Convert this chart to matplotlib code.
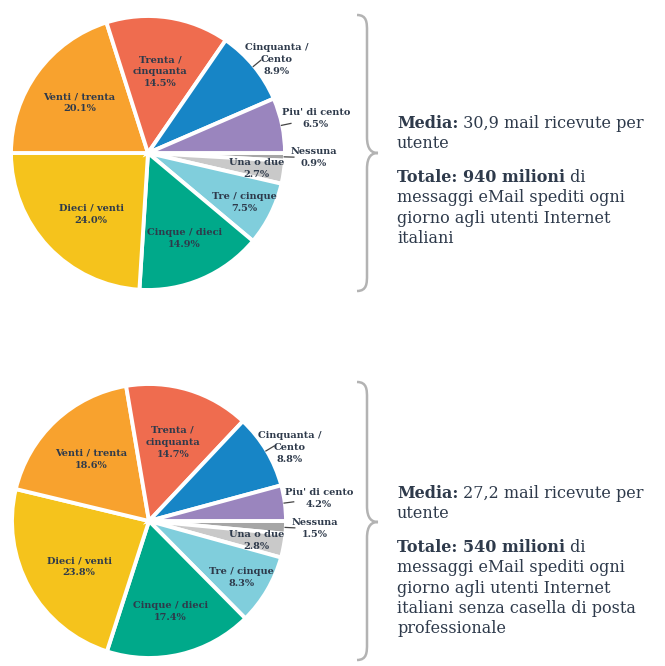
import matplotlib
matplotlib.use('Agg')
import matplotlib.pyplot as plt
import numpy as np
from matplotlib.path import Path
from matplotlib.patches import PathPatch

# slice order: clockwise from 3 o'clock
categories = ['Nessuna', 'Una o due', 'Tre / cinque', 'Cinque / dieci', 'Dieci / venti',
              'Venti / trenta', 'Trenta /\ncinquanta', 'Cinquanta /\nCento', "Piu' di cento"]
values_all = [0.9, 2.7, 7.5, 14.9, 24.0, 20.1, 14.5, 8.9, 6.5]
values_noprof = [1.5, 2.8, 8.3, 17.4, 23.8, 18.6, 14.7, 8.8, 4.2]

text_all = [
    [('Media:', 'bold'), (' 30,9 mail ricevute per', 'normal')],
    [('utente', 'normal')],
    None,
    [('Totale: 940 milioni', 'bold'), (' di', 'normal')],
    [('messaggi eMail spediti ogni', 'normal')],
    [('giorno agli utenti Internet', 'normal')],
    [('italiani', 'normal')],
]
text_noprof = [
    [('Media:', 'bold'), (' 27,2 mail ricevute per', 'normal')],
    [('utente', 'normal')],
    None,
    [('Totale: 540 milioni', 'bold'), (' di', 'normal')],
    [('messaggi eMail spediti ogni', 'normal')],
    [('giorno agli utenti Internet', 'normal')],
    [('italiani senza casella di posta', 'normal')],
    [('professionale', 'normal')],
]

colors = ['#a6a6a6', '#c9c9c9', '#80cedc', '#00a98a', '#f5c31c',
          '#f8a22e', '#ef6c4f', '#1785c6', '#9a85be']
# label distance (fraction of radius) and angle shift (deg), per slice
label_r = [1.21, 0.80, 0.79, 0.68, 0.61, 0.62, 0.60, 1.16, 1.25]
label_dang = [0, 0, -1, 0, 4, 0, 0, -3.5, 0]
outside = [True, False, False, False, False, False, False, True, True]

TXT = '#2e3a4b'
SERIF = 'DejaVu Serif'

W, H = 665, 666
fig = plt.figure(figsize=(W / 100, H / 100), dpi=100)
bg = fig.add_axes([0, 0, 1, 1])
bg.set_xlim(0, W)
bg.set_ylim(H, 0)
bg.axis('off')


def draw_pie(values, cx, cy, r):
    ax = fig.add_axes([(cx - r) / W, (H - cy - r) / H, 2 * r / W, 2 * r / H])
    wedges, _ = ax.pie(values, colors=colors, startangle=0, counterclock=False,
                       wedgeprops=dict(edgecolor='white', linewidth=2.8))
    ax.set_xlim(-1, 1)
    ax.set_ylim(-1, 1)
    for w, lab, v, lr, da, out in zip(wedges, categories, values, label_r, label_dang, outside):
        mid = (w.theta1 + w.theta2) / 2
        ang = np.deg2rad(mid + da)
        s = f'{lab}\n{v:.1f}%'
        ax.text(lr * np.cos(ang), lr * np.sin(ang), s, ha='center', va='center',
                fontsize=7, fontweight='bold', family=SERIF, color=TXT, linespacing=1.45)
        if out:
            # short leader line from the rim
            m = np.deg2rad(mid)
            rr = np.array([0.99, 1.07])
            ax.plot(rr * np.cos(m), rr * np.sin(m), color='#444444', lw=0.9,
                    clip_on=False, solid_capstyle='butt')


def draw_brace(x, ytop, ybot, ytip):
    tipx = x + 11
    verts = [(x - 10, ytop), (x, ytop), (x, ytop + 8), (x, ytop + 16),
             (x, ytip - 16),
             (x, ytip - 3), (x + 5, ytip), (tipx, ytip),
             (x + 5, ytip), (x, ytip + 3), (x, ytip + 16),
             (x, ybot - 16),
             (x, ybot - 8), (x, ybot), (x - 10, ybot)]
    codes = [Path.MOVETO, Path.CURVE4, Path.CURVE4, Path.CURVE4,
             Path.LINETO,
             Path.CURVE4, Path.CURVE4, Path.CURVE4,
             Path.CURVE4, Path.CURVE4, Path.CURVE4,
             Path.LINETO,
             Path.CURVE4, Path.CURVE4, Path.CURVE4]
    bg.add_patch(PathPatch(Path(verts, codes), fill=False, edgecolor='#b3b3b3', lw=1.8))


def draw_text(lines, x, y0, step=20.2, gap=34):
    renderer = fig.canvas.get_renderer()
    y = y0
    for line in lines:
        if line is None:
            y += gap - step
            continue
        xx = x
        for seg, weight in line:
            t = bg.text(xx, y, seg, fontsize=11.5, family=SERIF, fontweight=weight,
                        color=TXT, ha='left', va='baseline')
            bb = t.get_window_extent(renderer=renderer)
            xx += bb.width
        y += step


draw_pie(values_all, 148, 153, 137)
draw_pie(values_noprof, 149, 521, 137)
draw_brace(367, 15, 291, 153)
draw_brace(367, 382, 660, 522)
draw_text(text_all, 397, 128)
draw_text(text_noprof, 397, 498)

fig.savefig('out.png', dpi=100, facecolor='white')
